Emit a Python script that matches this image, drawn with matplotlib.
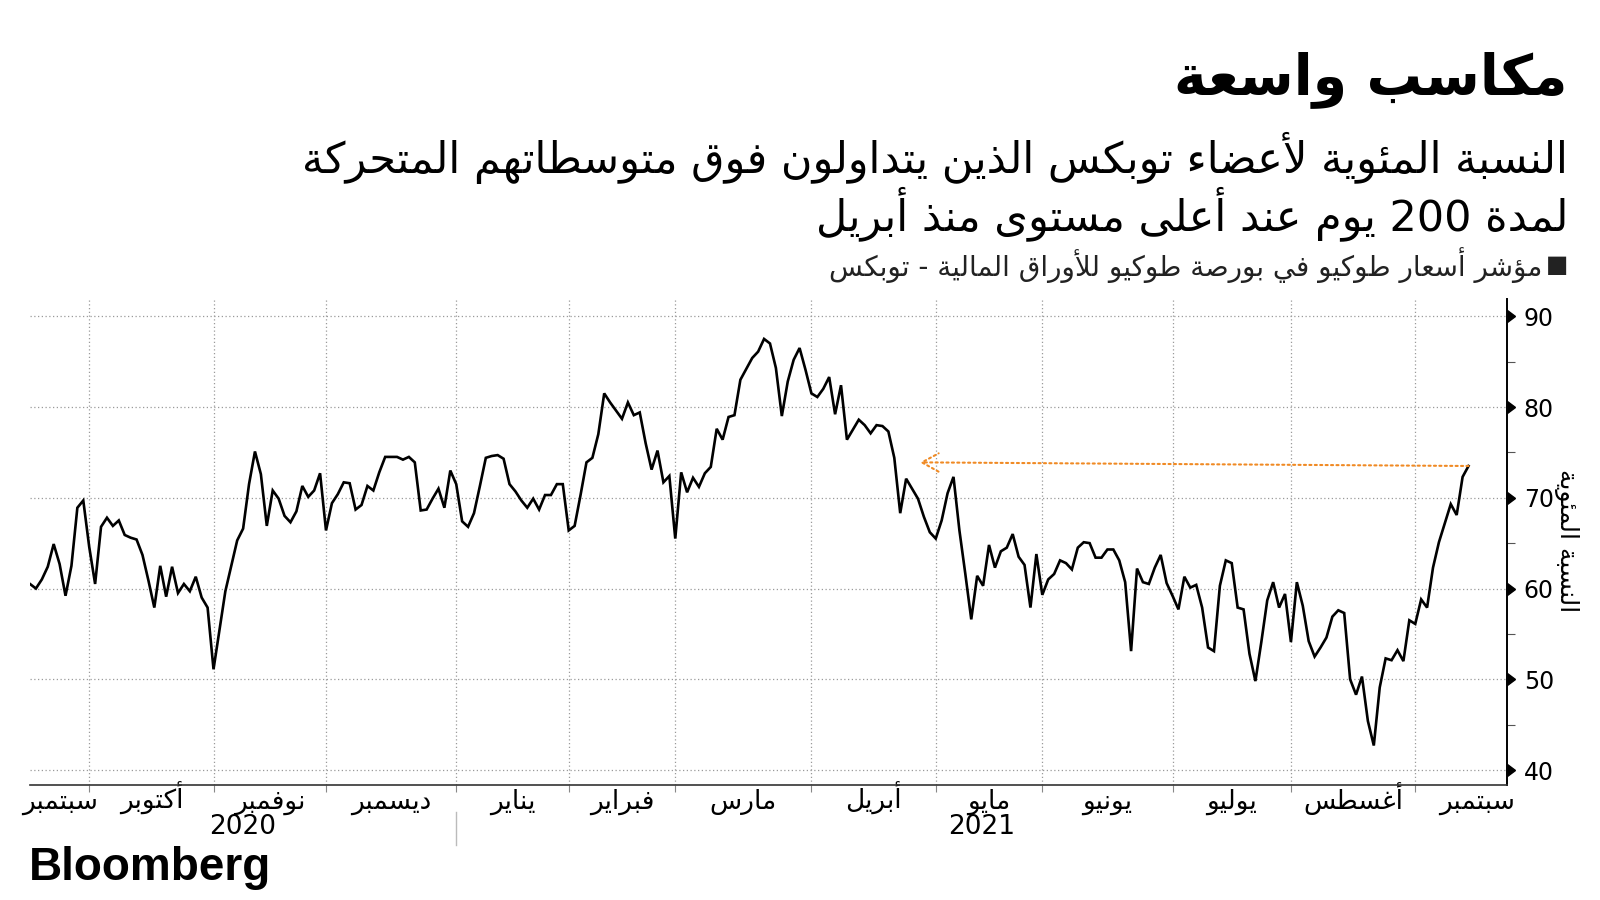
import re
import numpy as np
import matplotlib
matplotlib.use('Agg')
from matplotlib import pyplot as plt
from matplotlib.transforms import blended_transform_factory

plt.rcParams['font.family'] = ['DejaVu Sans']

# percentage of Topix members above their 200-day moving average (one value per trading day)
values = [
    60.5, 60.0, 61.0, 62.4, 64.9, 62.7, 59.2, 62.5, 68.9, 69.7,
    64.6, 60.5, 66.8, 67.8, 66.9, 67.5, 65.9, 65.6, 65.4, 63.7,
    60.9, 57.9, 62.5, 59.1, 62.4, 59.5, 60.5, 59.7, 61.3, 59.0,
    57.9, 51.1, 55.4, 59.7, 62.5, 65.3, 66.6, 71.5, 75.1, 72.6,
    66.9, 70.8, 69.9, 68.0, 67.3, 68.5, 71.3, 70.1, 70.8, 72.7,
    66.4, 69.4, 70.4, 71.7, 71.6, 68.7, 69.2, 71.3, 70.8, 72.8,
    74.5, 74.5, 74.5, 74.2, 74.5, 73.9, 68.6, 68.7, 69.9, 71.0,
    68.9, 73.0, 71.5, 67.4, 66.8, 68.3, 71.3, 74.4, 74.6, 74.7,
    74.3, 71.5, 70.7, 69.7, 68.9, 69.9, 68.7, 70.3, 70.3, 71.5,
    71.5, 66.4, 66.9, 70.3, 73.9, 74.4, 77.0, 81.5, 80.5, 79.6,
    78.7, 80.5, 79.1, 79.4, 76.0, 73.1, 75.2, 71.7, 72.4, 65.5,
    72.8, 70.6, 72.2, 71.2, 72.7, 73.4, 77.6, 76.4, 78.9, 79.1,
    83.0, 84.2, 85.4, 86.1, 87.5, 87.0, 84.3, 79.0, 82.8, 85.2,
    86.5, 84.1, 81.5, 81.1, 82.0, 83.3, 79.2, 82.4, 76.4, 77.5,
    78.6, 78.0, 77.1, 78.0, 77.9, 77.3, 74.4, 68.3, 72.1, 71.0,
    69.9, 67.9, 66.2, 65.5, 67.5, 70.5, 72.3, 66.4, 61.6, 56.6,
    61.4, 60.3, 64.8, 62.3, 64.1, 64.5, 66.0, 63.5, 62.6, 57.9,
    63.8, 59.3, 61.0, 61.6, 63.1, 62.8, 62.1, 64.5, 65.1, 65.0,
    63.4, 63.4, 64.3, 64.3, 63.1, 60.7, 53.1, 62.2, 60.7, 60.5,
    62.3, 63.7, 60.6, 59.2, 57.7, 61.3, 60.1, 60.4, 57.9, 53.5,
    53.1, 60.3, 63.1, 62.8, 57.9, 57.7, 52.8, 49.8, 54.1, 58.7,
    60.7, 57.9, 59.4, 54.1, 60.7, 58.1, 54.2, 52.5, 53.5, 54.6,
    56.9, 57.6, 57.3, 50.0, 48.3, 50.3, 45.4, 42.7, 49.1, 52.3,
    52.1, 53.2, 52.0, 56.5, 56.1, 58.8, 57.9, 62.3, 65.1, 67.2,
    69.3, 68.1, 72.3, 73.5,
]

months = ['سبتمبر', 'أكتوبر', 'نوفمبر', 'ديسمبر', 'يناير', 'فبراير', 'مارس',
          'أبريل', 'مايو', 'يونيو', 'يوليو', 'أغسطس', 'سبتمبر']
month_days = [10, 21, 19, 22, 19, 18, 23, 21, 18, 22, 20, 21, 21]
years = ['2020', '2021']
yticks = [40, 50, 60, 70, 80, 90]
arrow_head = (150.3, 73.9)

title = 'مكاسب واسعة'
subtitle1 = 'النسبة المئوية لأعضاء توبكس الذين يتداولون فوق متوسطاتهم المتحركة'
subtitle2 = 'لمدة 200 يوم عند أعلى مستوى منذ أبريل'
legend_txt = 'مؤشر أسعار طوكيو في بورصة طوكيو للأوراق المالية - توبكس'
ylabel = 'النسبة المئوية'

# --- minimal arabic shaping: contextual presentation forms + visual order ---
_tab = [('ء', 0xFE80, 1), ('آ', 0xFE81, 2), ('أ', 0xFE83, 2), ('ؤ', 0xFE85, 2),
        ('إ', 0xFE87, 2), ('ئ', 0xFE89, 4), ('ا', 0xFE8D, 2), ('ب', 0xFE8F, 4),
        ('ة', 0xFE93, 2), ('ت', 0xFE95, 4), ('ث', 0xFE99, 4), ('ج', 0xFE9D, 4),
        ('ح', 0xFEA1, 4), ('خ', 0xFEA5, 4), ('د', 0xFEA9, 2), ('ذ', 0xFEAB, 2),
        ('ر', 0xFEAD, 2), ('ز', 0xFEAF, 2), ('س', 0xFEB1, 4), ('ش', 0xFEB5, 4),
        ('ص', 0xFEB9, 4), ('ض', 0xFEBD, 4), ('ط', 0xFEC1, 4), ('ظ', 0xFEC5, 4),
        ('ع', 0xFEC9, 4), ('غ', 0xFECD, 4), ('ف', 0xFED1, 4), ('ق', 0xFED5, 4),
        ('ك', 0xFED9, 4), ('ل', 0xFEDD, 4), ('م', 0xFEE1, 4), ('ن', 0xFEE5, 4),
        ('ه', 0xFEE9, 4), ('و', 0xFEED, 2), ('ى', 0xFEEF, 2), ('ي', 0xFEF1, 4)]
FORMS = {c: (b, n) for c, b, n in _tab}
LAMALEF = {'آ': 0xFEF5, 'أ': 0xFEF7, 'إ': 0xFEF9, 'ا': 0xFEFB}


def shape(txt):
    out = []
    prev_joins = False
    i = 0
    while i < len(txt):
        c = txt[i]
        if c not in FORMS:
            out.append(c)
            prev_joins = False
            i += 1
            continue
        if c == 'ل' and i + 1 < len(txt) and txt[i + 1] in LAMALEF:
            out.append(chr(LAMALEF[txt[i + 1]] + (1 if prev_joins else 0)))
            prev_joins = False
            i += 2
            continue
        base, n = FORMS[c]
        nxt = txt[i + 1] if i + 1 < len(txt) else ''
        joins_next = n == 4 and nxt in FORMS and FORMS[nxt][1] > 1
        if n == 1:
            form = 0
        elif prev_joins and joins_next:
            form = 3
        elif prev_joins:
            form = 1
        elif joins_next:
            form = 2
        else:
            form = 0
        out.append(chr(base + form))
        prev_joins = joins_next
        i += 1
    vis = ''.join(out)[::-1]
    return re.sub(r'[0-9]+', lambda m: m.group(0)[::-1], vis)


x = np.arange(len(values))
bounds = np.concatenate([[0], np.cumsum(month_days)])
month_starts = bounds[1:-1]
month_centers = (bounds[:-1] + bounds[1:]) / 2.0
x_max = 249.5
year_split = bounds[4]
year_centers = [year_split / 2.0, (year_split + x_max) / 2.0]

fig = plt.figure(figsize=(16, 9), dpi=100)
ax = fig.add_axes([30 / 1600, 1 - 785 / 900, 1477 / 1600, 486 / 900])

ax.plot(x, values, color='black', linewidth=1.9, solid_joinstyle='miter', zorder=3)

ax.annotate('', xy=arrow_head, xytext=(x[-1], values[-1]),
            arrowprops=dict(arrowstyle='->,head_length=1.0,head_width=0.55',
                            color='#F08A24', lw=1.5, linestyle=(0, (1, 1.6)),
                            shrinkA=0, shrinkB=0, mutation_scale=12),
            zorder=4)

ax.set_xlim(0, x_max)
ax.set_ylim(38.35, 91.9)

# grid
for yv in yticks:
    ax.axhline(yv, color='#9a9a9a', linewidth=0.9, linestyle=(0, (1, 2)), zorder=1)
for xv in month_starts:
    ax.axvline(xv, color='#9a9a9a', linewidth=0.9, linestyle=(0, (1, 2)), zorder=1)

for s in ['top', 'left']:
    ax.spines[s].set_visible(False)
ax.spines['right'].set_linewidth(1.4)
ax.spines['bottom'].set_linewidth(1.2)
ax.spines['bottom'].set_color('#333333')

# y axis on the right
ax.yaxis.tick_right()
ax.set_yticks(yticks)
ax.set_yticks(np.arange(45, 90, 10), minor=True)
ax.tick_params(axis='y', which='major', length=0, pad=12, labelsize=17)
ax.tick_params(axis='y', which='minor', length=6, width=0.8, color='#555555')
tr = blended_transform_factory(ax.transAxes, ax.transData)
ax.plot([1] * len(yticks), yticks, transform=tr, linestyle='none', marker=9,
        markersize=8, color='black', clip_on=False, zorder=5)

# x axis: month boundaries as ticks, month names centered in between
ax.set_xticks(month_starts)
ax.set_xticklabels([])
ax.set_xticks(month_centers, minor=True)
ax.set_xticklabels([shape(m) for m in months], minor=True)
ax.tick_params(axis='x', which='major', length=5, width=0.8, color='#888888')
ax.tick_params(axis='x', which='minor', length=0, pad=17, labelsize=19)
for lab in ax.get_xticklabels(minor=True):
    lab.set_va('baseline')

xt = ax.get_xaxis_transform()
for yr, xc in zip(years, year_centers):
    ax.text(xc, -0.087, yr, transform=xt, ha='center', va='center',
            fontsize=19, family=['Liberation Sans Narrow', 'DejaVu Sans'])
ax.plot([year_split, year_split], [-0.056, -0.123], transform=xt, color='#bbbbbb',
        linewidth=1.0, clip_on=False)

fig.text(1566 / 1600, 1 - 541 / 900, shape(ylabel), rotation=-90, ha='center',
         va='center', fontsize=18)

# titles
fig.text(0.98, 0.912, shape(title), ha='right', va='center', fontsize=40,
         fontweight='bold')
fig.text(0.98, 0.824, shape(subtitle1), ha='right', va='center', fontsize=31)
fig.text(0.98, 0.763, shape(subtitle2), ha='right', va='center', fontsize=31)
fig.text(0.98, 0.706, '\u25A0', ha='right', va='center', fontsize=17, color='#222222')
fig.text(0.964, 0.706, shape(legend_txt), ha='right', va='center', fontsize=20,
         color='#222222')

fig.text(0.018, 0.036, 'Bloomberg', ha='left', va='center', fontsize=33,
         fontweight='bold', family=['Liberation Sans', 'DejaVu Sans'])

fig.savefig('out.png', dpi=100)
